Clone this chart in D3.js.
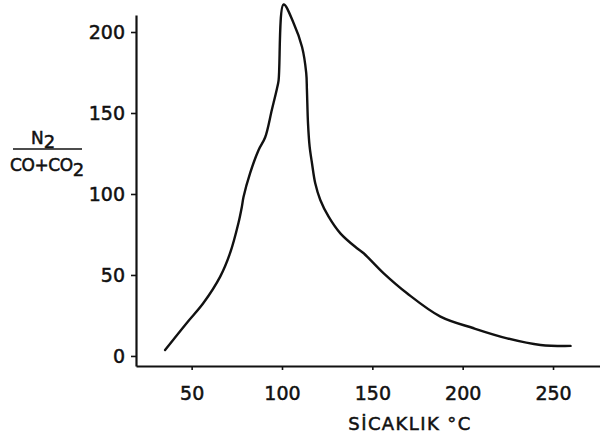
<!DOCTYPE html>
<html>
<head>
<meta charset="utf-8">
<script src="https://cdn.jsdelivr.net/npm/d3@7"></script>
<style>
  body { margin: 0; background: #fff; }
  svg { display: block; }
  text { font-family: "DejaVu Sans", sans-serif; fill: #111; stroke: #111; stroke-width: 0.5px; }
</style>
</head>
<body>
<div id="chart"></div>
<script>
// temperature (°C)
const temperature = [35.3, 47.3, 56.5, 65.8, 71.3, 75.9, 77.8, 78.7, 82.4, 87.0, 90.7, 94.4, 97.2, 98.1, 100.9,
  106.4, 111.1, 113.4, 113.8, 114.4, 115.3, 116.6, 118.4, 121.2, 125.8, 132.3, 141.5, 145.2, 156.3, 169.2, 187.7,
  206.1, 224.6, 243.1, 259.7];
// N2 / (CO + CO2) ratio
const ratio = [3.7, 20.4, 32.7, 49.0, 63.6, 82.1, 92.2, 98.1, 113, 127, 135, 152, 165, 170, 217,
  205.6, 190.7, 174.7, 164.2, 143.6, 129.2, 119, 106.6, 96.3, 86, 75.7, 66.5, 63.4, 51, 38.7, 24.3,
  17.1, 10.9, 6.8, 6.2];

const xTicks = [50, 100, 150, 200, 250];
const yTicks = [0, 50, 100, 150, 200];

const w = 600, h = 442;

const svg = d3.select('#chart').append('svg')
  .attr('width', w)
  .attr('height', h);

// scales, the axes cross a little below zero and left of 20 °C
const x = d3.scaleLinear().domain([19.2, 276]).range([136, 600]);
const y = d3.scaleLinear().domain([-6.2, 210.5]).range([366, 15]);

const xAxis = d3.axisBottom(x)
  .tickValues(xTicks)
  .tickSizeInner(4)
  .tickSizeOuter(0)
  .tickPadding(17);

const yAxis = d3.axisLeft(y)
  .tickValues(yTicks)
  .tickSizeInner(5)
  .tickSizeOuter(0)
  .tickPadding(6);

const gx = svg.append('g')
  .attr('transform', `translate(0,${y.range()[0]})`)
  .call(xAxis);

const gy = svg.append('g')
  .attr('transform', `translate(${x.range()[0]},0)`)
  .call(yAxis);

[gx, gy].forEach(g => {
  g.select('.domain').attr('stroke', '#111').attr('stroke-width', 2.2);
  g.selectAll('.tick line').attr('stroke', '#111').attr('stroke-width', 1.6);
  g.selectAll('.tick text')
    .style('font-family', '"DejaVu Sans", sans-serif')
    .style('font-size', '19px')
    .attr('fill', '#111');
});

// curve
const data = temperature.map((t, i) => ({ t: t, r: ratio[i] }));

const line = d3.line()
  .x(d => x(d.t))
  .y(d => y(d.r))
  .curve(d3.curveCatmullRom.alpha(0.5));

svg.append('path')
  .datum(data)
  .attr('d', line)
  .attr('fill', 'none')
  .attr('stroke', '#111')
  .attr('stroke-width', 2.4)
  .attr('stroke-linejoin', 'round')
  .attr('stroke-linecap', 'round');

// x label
svg.append('text')
  .attr('x', 410)
  .attr('y', 430)
  .attr('text-anchor', 'middle')
  .style('font-size', '18px')
  .style('letter-spacing', '1.4px')
  .text('SİCAKLIK °C');

// y label as a fraction
const yl = svg.append('g');

yl.append('text')
  .attr('x', 31)
  .attr('y', 144)
  .style('font-size', '17px')
  .text('N')
  .append('tspan')
  .attr('dy', 4)
  .style('font-size', '18px')
  .text('2');

yl.append('line')
  .attr('x1', 13).attr('x2', 82)
  .attr('y1', 149).attr('y2', 149)
  .attr('stroke', '#111')
  .attr('stroke-width', 1.4);

const den = yl.append('text')
  .attr('x', 10)
  .attr('y', 171)
  .style('font-size', '17px')
  .style('letter-spacing', '-0.4px')
  .text('CO+CO');

den.append('tspan')
  .attr('dy', 5)
  .style('font-size', '18px')
  .text('2');
</script>
</body>
</html>
